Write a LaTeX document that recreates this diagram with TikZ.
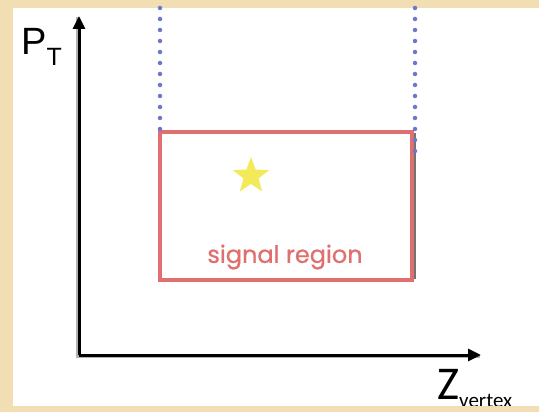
\documentclass[tikz,border=0pt]{standalone}
\usepackage{fontspec}
\setmainfont{Liberation Sans}
\newfontfamily\zfont{Carlito}
\newfontfamily\regionfont[FakeBold=0.8]{Poppins}
\usetikzlibrary{arrows.meta,shapes.geometric}
\definecolor{paperBeige}{HTML}{F2DEB3}
\definecolor{regionRed}{HTML}{E07070}
\definecolor{cutBlue}{HTML}{6C76CA}
\definecolor{starYellow}{HTML}{F2EA58}
\tikzset{
  axis/.style={-{Triangle[length=13pt,width=12pt]}, line width=3pt, black},
  axisshadow/.style={line width=3pt, black!30},
  cut/.style={line width=4.5pt, cutBlue, line cap=round, dash pattern=on 0pt off 11pt},
  region/.style={draw=regionRed, line width=4pt, inner sep=0pt, outer sep=0pt},
  lbl/.style={inner sep=0pt},
}

\begin{document}
\begin{tikzpicture}[x=1pt,y=-1pt]
  \useasboundingbox (0,0) rectangle (539,412);
  \fill[paperBeige] (0,0) rectangle (13,412);
  \fill[paperBeige] (0,0) rectangle (539,8);
  \fill[white] (13,8) rectangle (539,406);
  % axes
  \coordinate (origin) at (79,355);
  \coordinate (ytip) at (79,16);
  \coordinate (xtip) at (481,355);
  \draw[axisshadow] ([shift={(-1.5,1.5)}]ytip) -- ([shift={(-1.5,1.5)}]origin) -- ([shift={(-1.5,1.5)}]xtip);
  \draw[axis] (origin) -- (ytip);
  \draw[axis] (origin) -- (xtip);
  \node[lbl, anchor=base west, font=\fontsize{38}{40}\selectfont] (ptlabel) at (21,55)
    {P\raisebox{-11pt}{\fontsize{25}{26}\selectfont T}};
  \node[lbl, anchor=base west, font=\zfont\fontsize{47}{48}\selectfont] (zlabel) at (437,399)
    {Z\raisebox{-8pt}{\fontsize{21}{22}\selectfont vertex}};
  % signal region
  \node[region, minimum width=252pt, minimum height=148pt, anchor=north west] (sigreg) at (160,132) {};
  \coordinate (lefttop) at (160,8);
  \coordinate (righttop) at (415,8);
  \coordinate (rightend) at (415,158);
  \draw[line width=2pt, black!55] ([shift={(3pt,-1pt)}]sigreg.north east) -- ([shift={(3pt,1pt)}]sigreg.south east);
  \draw[cut] (lefttop) -- (sigreg.north west);
  \draw[cut] (righttop) -- (rightend);
  \node[star, star points=5, star point ratio=2.4, fill=starYellow, inner sep=0pt, minimum size=38pt] (event) at (251,176) {};
  \node[lbl, text=regionRed, font=\regionfont\fontsize{24}{26}\selectfont] (siglabel) at (285,257) {signal region};
  % bottom band of the page covers the foot of the label
  \fill[paperBeige] (0,406) rectangle (539,412);
\end{tikzpicture}
\end{document}
